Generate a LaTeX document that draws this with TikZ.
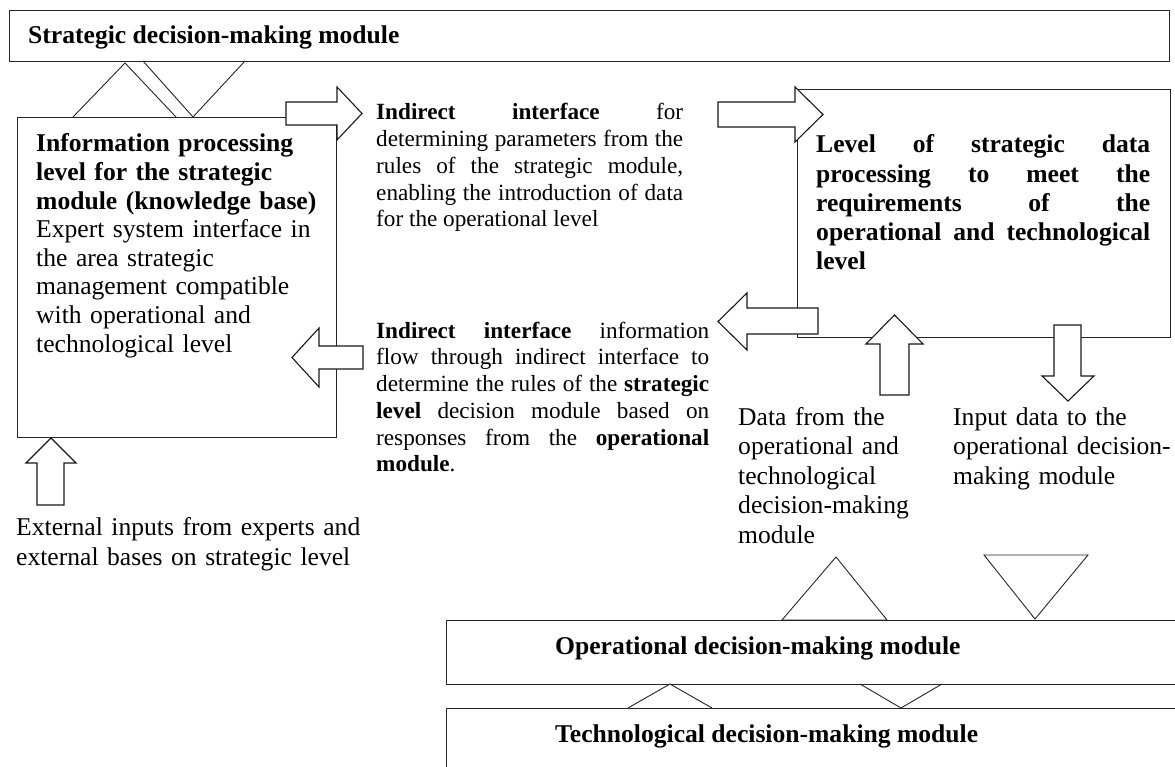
\documentclass[tikz,border=0pt]{standalone}
\usepackage{fontspec}
\setmainfont{Liberation Serif}
\tolerance=10000
\hbadness=10000
\hyphenpenalty=10000
\exhyphenpenalty=10000
\begin{document}
\begin{tikzpicture}[x=1pt,y=-1pt,
  frame/.style={draw=black!85, line width=1pt, inner sep=0pt, anchor=north west},
  blockarrow/.style={draw=black!90, line width=1.1pt, fill=white, line join=miter},
  tri/.style={draw=black!85, line width=0.9pt},
  bigfont/.style={font=\fontsize{25.6}{28.6}\selectfont},
  bigbold/.style={font=\bfseries\fontsize{25.6}{28}\selectfont},
  midfont/.style={font=\fontsize{23.2}{26.75}\selectfont},
  txt/.style={inner sep=0pt, anchor=base west},
  just/.style={txt, align=justify},
  rag/.style={txt, align=left}
]
\useasboundingbox (0,0) rectangle (1175,767);
\clip (0,0) rectangle (1175,767);

% boxes
\node[frame, minimum width=1160pt, minimum height=51pt] (strat) at (9,10) {};
\node[frame, minimum width=319pt, minimum height=320pt] (infobox) at (17,117) {};
\node[frame, minimum width=373pt, minimum height=248pt] (databox) at (797,89) {};
\node[frame, minimum width=760pt, minimum height=64pt] (opbox) at (446,620) {};
\node[frame, minimum width=760pt, minimum height=90pt] (techbox) at (446,708) {};

% triangles between strategic module and information box
\draw[tri] (73,117) -- (125,63) -- (176,117);
\draw[tri] (143,61) -- (193,117) -- (245,61);
% triangles above operational module
\draw[tri] (782,620) -- (836,557) -- (887,620) -- cycle;
\draw[tri] (984,555) -- (1088,555) -- (1035,619) -- cycle;
% triangles between operational and technological module
\draw[tri] (628,708) -- (670,684) -- (712,708);
\draw[tri] (860,684) -- (901,708) -- (942,684);

% block arrows
\draw[blockarrow] (286,102) -- (337,102) -- (337,87) -- (362,113.5) -- (337,140) -- (337,125) -- (286,125) -- cycle;
\draw[blockarrow] (718,102) -- (795,102) -- (795,87) -- (823,114.5) -- (795,142) -- (795,127) -- (718,127) -- cycle;
\draw[blockarrow] (363,346) -- (319,346) -- (319,328) -- (292,357.5) -- (319,387) -- (319,369) -- (363,369) -- cycle;
\draw[blockarrow] (818,308) -- (747,308) -- (747,293) -- (718,321.5) -- (747,350) -- (747,334) -- (818,334) -- cycle;
\draw[blockarrow] (880,395) -- (880,344) -- (866,344) -- (894.5,315) -- (923,344) -- (909,344) -- (909,395) -- cycle;
\draw[blockarrow] (1054,325) -- (1081,325) -- (1081,376) -- (1094,376) -- (1068,401) -- (1042,376) -- (1054,376) -- cycle;
\draw[blockarrow] (37,505) -- (37,463) -- (26,463) -- (51,438) -- (76,463) -- (64,463) -- (64,505) -- cycle;

% texts
\node[txt, bigbold] (stratlabel) at (28,44) {Strategic decision-making module};
\node[rag, bigfont, text width=310pt] (infotext) at (36,152)
  {{\bfseries Information processing\\level for the strategic\\module (knowledge base)}\\Expert system interface in\\the area strategic\\management compatible\\with operational and\\technological level};
\node[just, midfont, text width=307pt] (iface1) at (376,120)
  {\textbf{Indirect interface} for\linebreak determining parameters from the\linebreak rules of the strategic module,\linebreak enabling the introduction of data\linebreak for the operational level};
\node[just, midfont, text width=333pt] (iface2) at (376,338)
  {\textbf{Indirect interface} information\linebreak flow through indirect interface to\linebreak determine the rules of the \textbf{strategic}\linebreak \textbf{level} decision module based on\linebreak responses from the \textbf{operational}\linebreak \textbf{module}.};
\node[just, font=\bfseries\fontsize{25.6}{29.25}\selectfont, text width=334pt] (datatext) at (816,153)
  {Level of strategic data\linebreak processing to meet the\linebreak requirements of the\linebreak operational and technological\linebreak level};
\node[rag, font=\fontsize{25.6}{29.5}\selectfont, text width=200pt] (fromtext) at (738,425)
  {Data from the\\operational and\\technological\\decision-making\\module};
\node[rag, font=\fontsize{25.6}{29.5}\selectfont, text width=230pt] (inputtext) at (953,425)
  {Input data to the\\operational decision-\\making module};
\node[rag, font=\fontsize{25.6}{30}\selectfont, text width=400pt] (exttext) at (16,535)
  {External inputs from experts and\\external bases on strategic level};
\node[txt, bigbold] (oplabel) at (555,654) {Operational decision-making module};
\node[txt, bigbold] (techlabel) at (555,742) {Technological decision-making module};
\end{tikzpicture}
\end{document}
